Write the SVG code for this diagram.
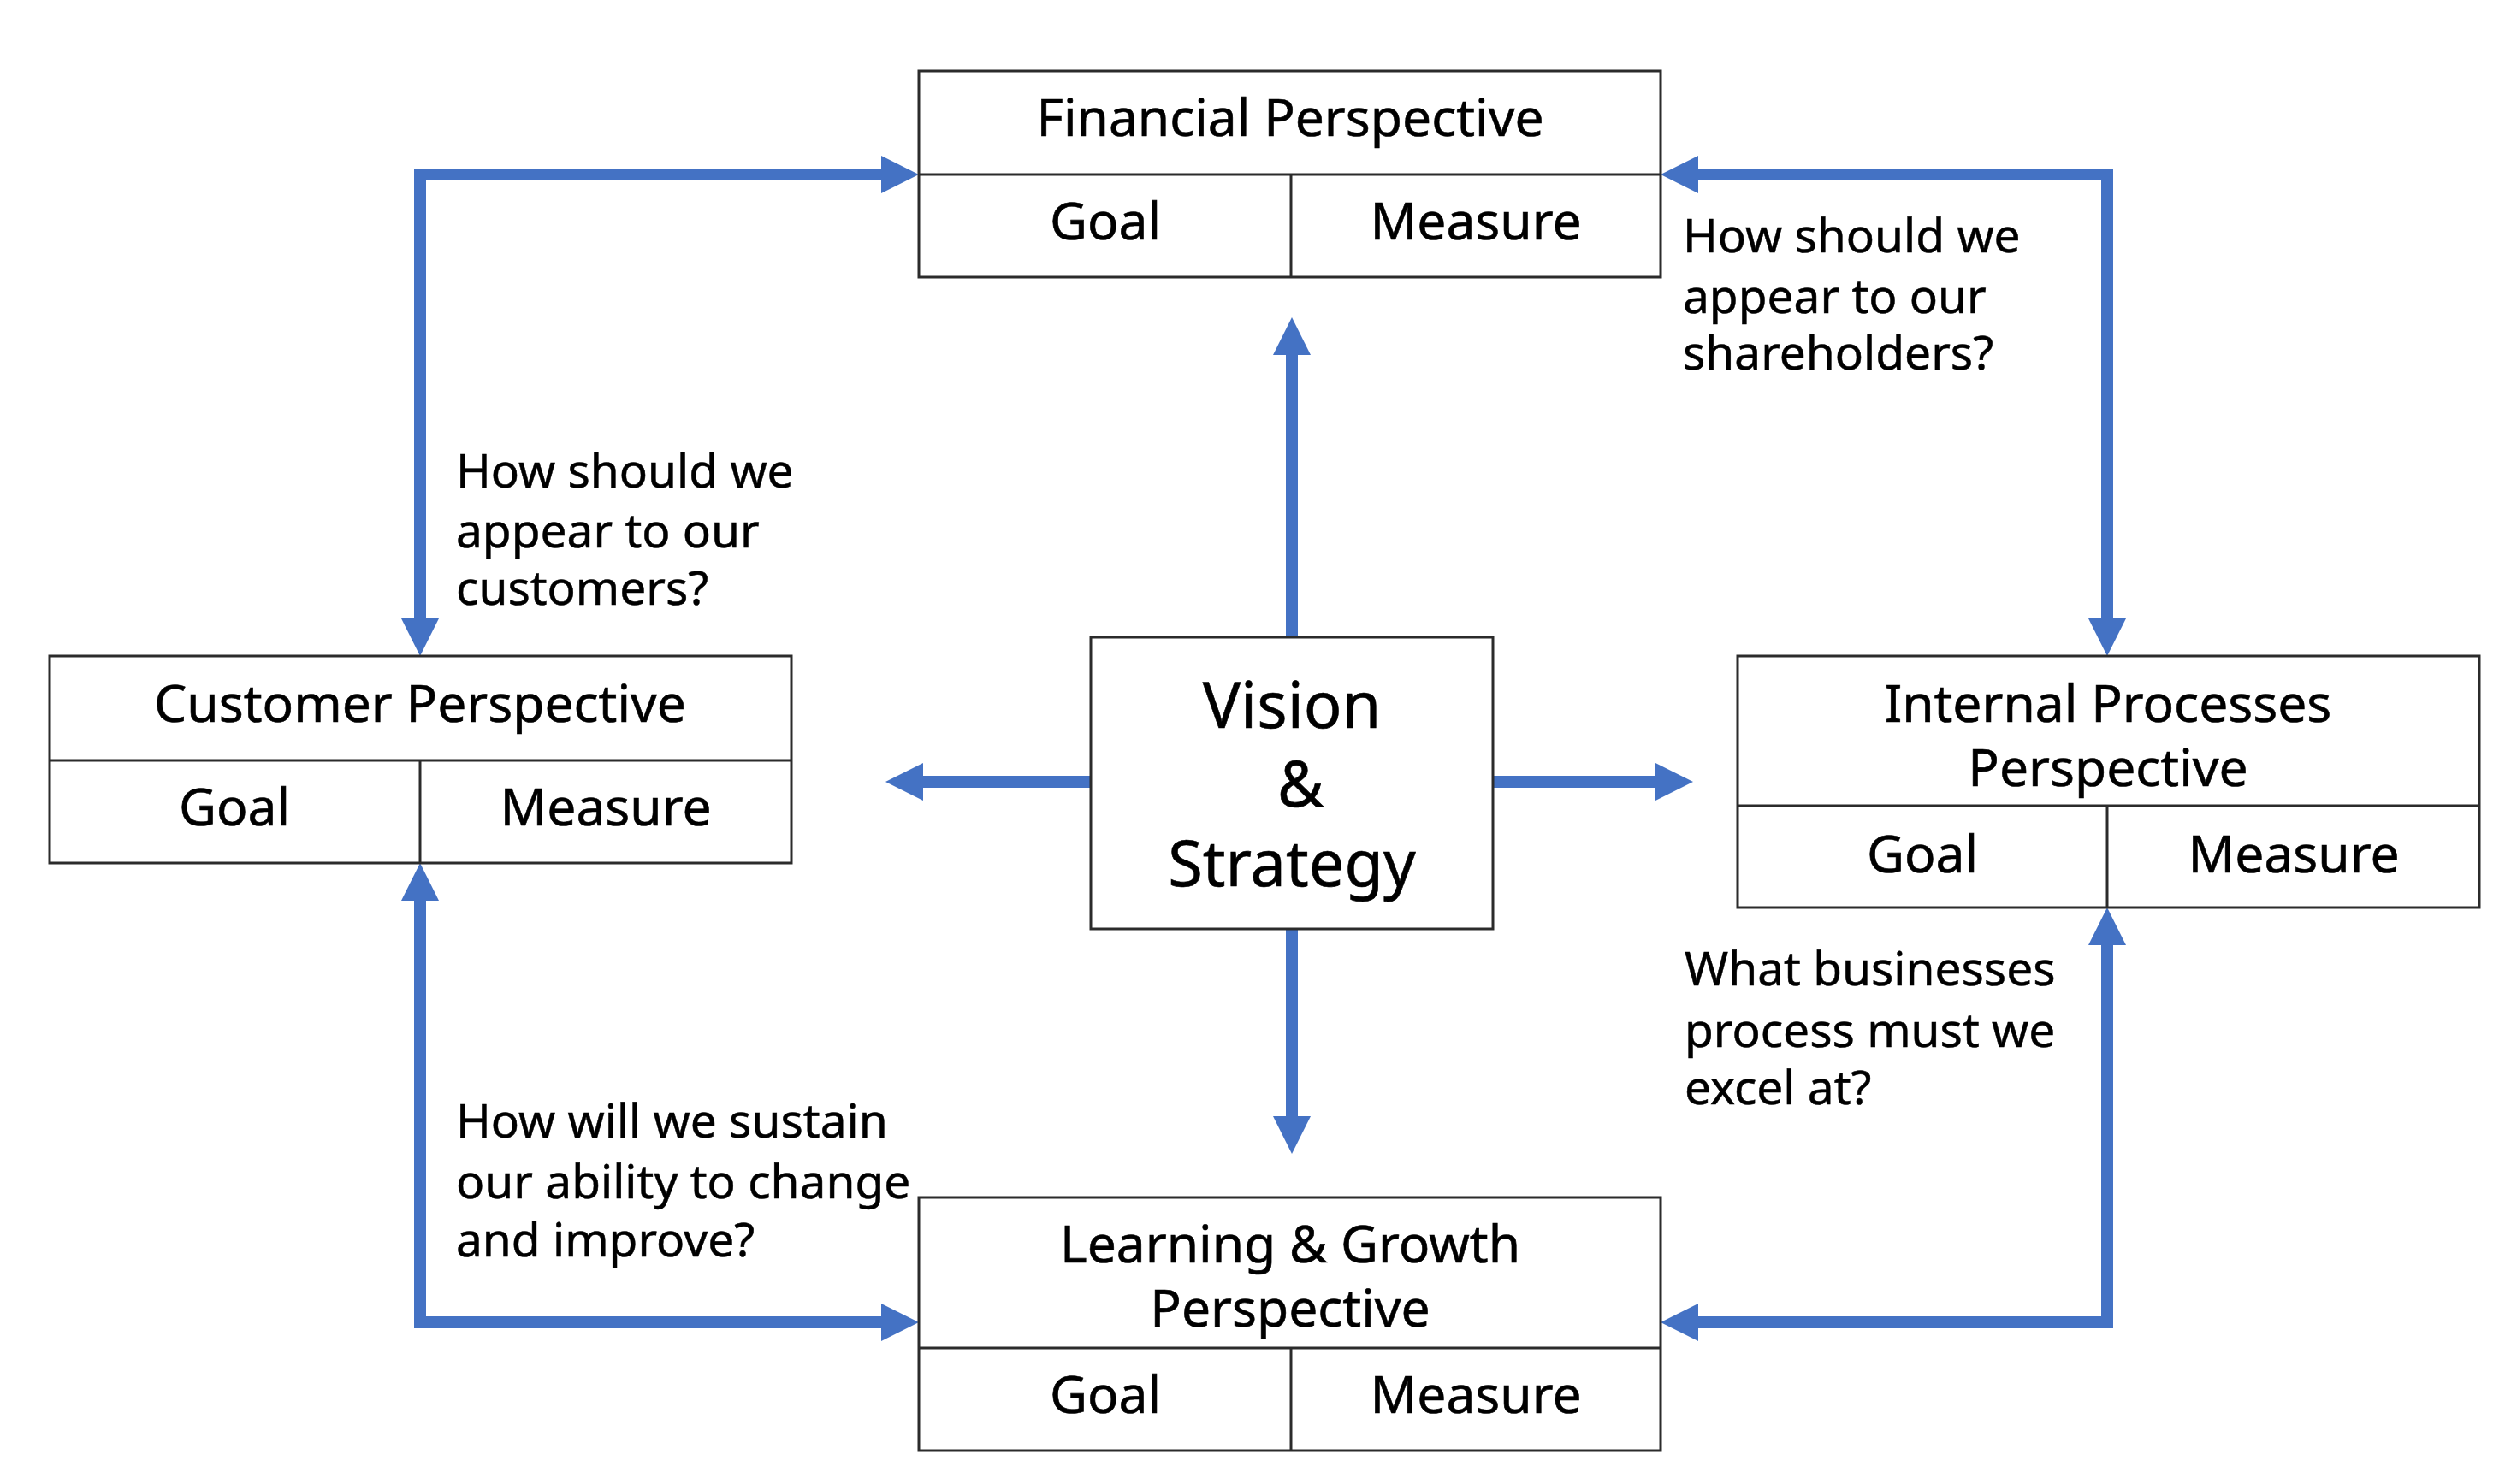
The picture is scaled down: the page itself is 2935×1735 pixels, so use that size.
<svg xmlns="http://www.w3.org/2000/svg" width="2935" height="1735" viewBox="0 0 2935 1735">
<defs>
<marker id="ah" markerUnits="userSpaceOnUse" markerWidth="44" markerHeight="44" refX="0" refY="22" orient="auto-start-reverse" viewBox="0 0 44 44">
<path d="M0,0 L44,22 L0,44 z" fill="#4472C4"/>
</marker>
<style>
.box{fill:#fff;stroke:#2b2b2b;stroke-width:3}
.ln{stroke:#2b2b2b;stroke-width:3}
.t{font-family:"Noto Sans","Open Sans","Liberation Sans",sans-serif;font-size:60.5px;fill:#000;stroke:#000;stroke-width:0.6;text-anchor:middle}
.q{font-family:"Noto Sans","Open Sans","Liberation Sans",sans-serif;font-size:55px;fill:#000;stroke:#000;stroke-width:0.5}
.v{font-family:"Noto Sans","Open Sans","Liberation Sans",sans-serif;font-size:74px;fill:#000;stroke:#000;stroke-width:0.6;text-anchor:middle}
.c{fill:none;stroke:#4472C4;stroke-width:14;stroke-linejoin:miter;marker-start:url(#ah);marker-end:url(#ah)}
.c1{fill:none;stroke:#4472C4;stroke-width:14;marker-end:url(#ah)}
</style>
</defs>
<rect width="2935" height="1735" fill="#fff"/>
<g id="connectors">
<path class="c" d="M1030,204 L491,204 L491,723"/>
<path class="c" d="M1985,204 L2463,204 L2463,723"/>
<path class="c" d="M491,1053 L491,1546 L1030,1546"/>
<path class="c" d="M2463,1105 L2463,1546 L1985,1546"/>
<path class="c1" d="M1510,745 L1510,415"/>
<path class="c1" d="M1510,1086 L1510,1305"/>
<path class="c1" d="M1275,914 L1079,914"/>
<path class="c1" d="M1745,914 L1935,914"/>
</g>
<g id="financial">
<rect class="box" x="1074" y="83" width="867" height="241"/>
<line class="ln" x1="1074" y1="204" x2="1941" y2="204"/>
<line class="ln" x1="1509" y1="204" x2="1509" y2="324"/>
<text class="t" x="1508" y="159">Financial Perspective</text>
<text class="t" x="1292" y="280">Goal</text>
<text class="t" x="1725" y="280">Measure</text>
</g>
<g id="customer">
<rect class="box" x="58" y="767" width="867" height="242"/>
<line class="ln" x1="58" y1="889" x2="925" y2="889"/>
<line class="ln" x1="491" y1="889" x2="491" y2="1009"/>
<text class="t" x="491" y="844">Customer Perspective</text>
<text class="t" x="274" y="965">Goal</text>
<text class="t" x="708" y="965">Measure</text>
</g>
<g id="internal">
<rect class="box" x="2031" y="767" width="867" height="294"/>
<line class="ln" x1="2031" y1="942" x2="2898" y2="942"/>
<line class="ln" x1="2463" y1="942" x2="2463" y2="1061"/>
<text class="t" x="2464" y="844">Internal Processes</text>
<text class="t" x="2464" y="919">Perspective</text>
<text class="t" x="2247" y="1020">Goal</text>
<text class="t" x="2681" y="1020">Measure</text>
</g>
<g id="learning">
<rect class="box" x="1074" y="1400" width="867" height="296"/>
<line class="ln" x1="1074" y1="1576" x2="1941" y2="1576"/>
<line class="ln" x1="1509" y1="1576" x2="1509" y2="1696"/>
<text class="t" x="1508" y="1476">Learning &amp; Growth</text>
<text class="t" x="1508" y="1551">Perspective</text>
<text class="t" x="1292" y="1652">Goal</text>
<text class="t" x="1725" y="1652">Measure</text>
</g>
<g id="vision">
<rect class="box" x="1275" y="745" width="470" height="341"/>
<text class="v" x="1510" y="851">Vision</text>
<text class="v" x="1520" y="943">&amp;</text>
<text class="v" x="1510" y="1036">Strategy</text>
</g>
<g id="labels">
<text class="q" x="533"><tspan x="533" y="570">How should we</tspan><tspan x="533" y="640">appear to our</tspan><tspan x="533" y="707">customers?</tspan></text>
<text class="q" x="1967"><tspan x="1967" y="295">How should we</tspan><tspan x="1967" y="366">appear to our</tspan><tspan x="1967" y="432">shareholders?</tspan></text>
<text class="q" x="533"><tspan x="533" y="1330">How will we sustain</tspan><tspan x="533" y="1401">our ability to change</tspan><tspan x="533" y="1469">and improve?</tspan></text>
<text class="q" x="1969"><tspan x="1969" y="1152">What businesses</tspan><tspan x="1969" y="1224">process must we</tspan><tspan x="1969" y="1291">excel at?</tspan></text>
</g>
</svg>
